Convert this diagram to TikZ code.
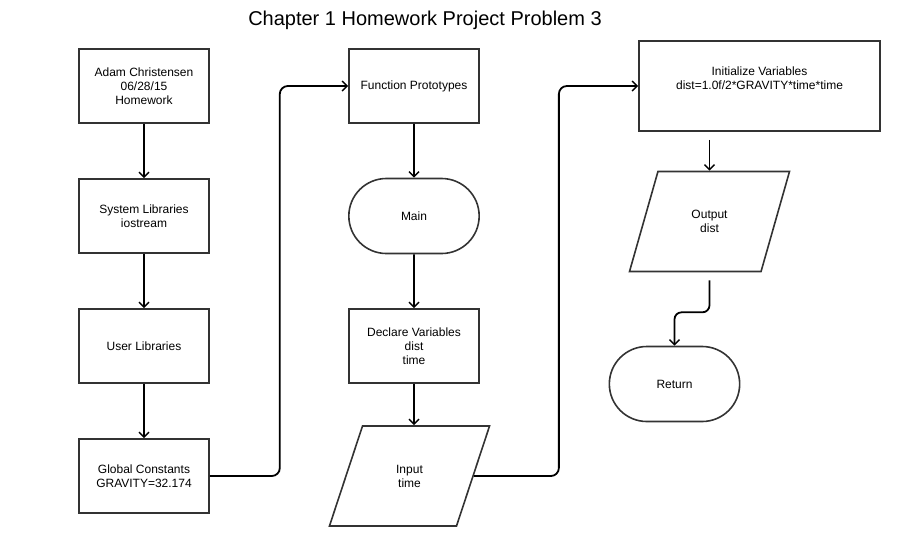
\documentclass[tikz,border=0pt]{standalone}
\usepackage{fontspec}
\setmainfont{Liberation Sans}
\usepackage{tikz}
\usetikzlibrary{arrows.meta, positioning, shapes.geometric, shapes.misc}
\usepackage{xcolor}

\begin{document}
\begin{tikzpicture}[node distance=130pt,on grid,auto]
    \tikzstyle{box}=[shape=rectangle,draw=black!80,line width=1.6pt,minimum width=130pt,minimum height=74pt,align=center,font=\fontsize{12pt}{14pt}\selectfont]
    \tikzstyle{term}=[box,shape=rounded rectangle,minimum width=137pt,minimum height=75pt]
    \tikzstyle{io}=[box,shape=trapezium,trapezium left angle=68,trapezium right angle=112,trapezium stretches,minimum width=161pt,minimum height=100pt]
    \tikzstyle{flow}=[draw=black,line width=1.8pt,-{Straight Barb[length=5pt,width=10pt,line width=1.4pt]}]

    \useasboundingbox (0pt,0pt) rectangle (904pt,-547pt);
    \node[font=\fontsize{20pt}{24pt}\selectfont] (title) at (425pt,-20pt) {Chapter 1 Homework Project Problem 3};

    \node[box] (A1) at (144pt,-86pt) {Adam Christensen\\06/28/15\\Homework};
    \node[box, below of=A1] (A2) {System Libraries\\iostream};
    \node[box, below of=A2] (A3) {User Libraries};
    \node[box, below of=A3] (A4) {Global Constants\\GRAVITY=32.174};
    \node[box, right of=A1, node distance=270pt] (B1) {Function Prototypes};
    \node[term, below of=B1] (B2) {Main};
    \node[box, below of=B2] (B3) {Declare Variables\\dist\\time};
    \node[io, below of=B3, xshift=-4.5pt] (B4) {Input\\time};
    \node[box, right of=B1, node distance=345.5pt, minimum width=241pt, minimum height=90pt, text depth=15pt] (C1) {Initialize Variables\\dist=1.0f/2*GRAVITY*time*time};
    \node[io, below of=C1, node distance=135.5pt, xshift=-50pt] (C2) {Output\\dist};
    \node[term, below of=C2, node distance=162.5pt, xshift=-35pt] (C3) {Return};

    \path[flow]
    (A1) edge (A2)
    (A2) edge (A3)
    (A3) edge (A4)
    (B1) edge (B2)
    (B2) edge (B3)
    ;
    \draw[flow] (B3.south) -- (B3.south |- B4.north);
    \draw[flow,rounded corners=8pt] (A4.east) -- ++(70pt,0pt) |- (B1.west);
    \draw[flow,rounded corners=8pt] (B4.east) -- ++(85pt,0pt) |- (C1.west);
    \draw[flow,shorten <=8pt] (C1.south -| C2.north) -- (C2.north);
    \draw[flow,rounded corners=7pt,shorten <=8pt] (C2.south) -- ++(0pt,-40pt) -| (C3.north);

\end{tikzpicture}
\end{document}
